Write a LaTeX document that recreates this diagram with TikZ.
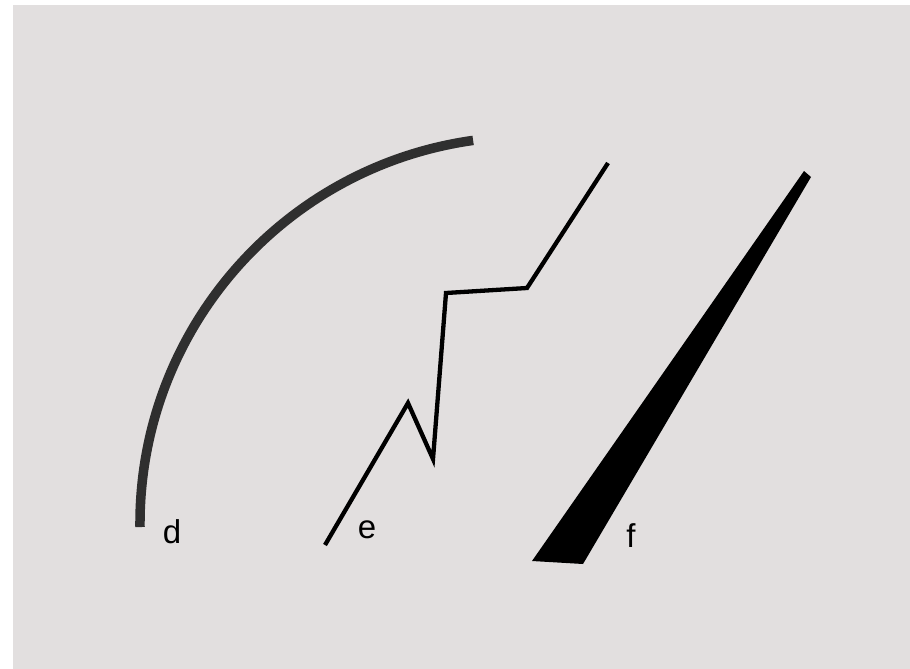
\documentclass[tikz,border=0pt]{standalone}
\usepackage{fontspec}
\setmainfont{Liberation Sans}
\usepackage{tikz}
\definecolor{paper}{HTML}{E2DFDF}
\definecolor{arcgrey}{HTML}{2F2F2F}
\tikzset{
    lbl/.style={font=\fontsize{33}{33}\selectfont, inner sep=0pt}
}

\begin{document}
\begin{tikzpicture}[x=1pt,y=-1pt]
    % Page and grey field
    \useasboundingbox (0,0) rectangle (910,669);
    \fill[white] (0,0) rectangle (910,669);
    \fill[paper] (13,5) rectangle (910,669);

    % Curve d (arc)
    \draw[arcgrey,line width=9.5pt] (140,527) arc[start angle=179.5, end angle=262, radius=387];
    \node[lbl] (d) at (172,532) {d};

    % Broken line e
    \draw[black,line width=4.3pt,line join=miter] (325,545) -- (408,403) -- (433,459)
        -- (446,293) -- (527,288) -- (608,163);
    \node[lbl] (e) at (367,530) {e};

    % Wedge f
    \fill[black] (532,561) -- (583,564) -- (811,177) -- (804,171) -- cycle;
    \node[lbl] (f) at (631,536) {f};
\end{tikzpicture}
\end{document}
